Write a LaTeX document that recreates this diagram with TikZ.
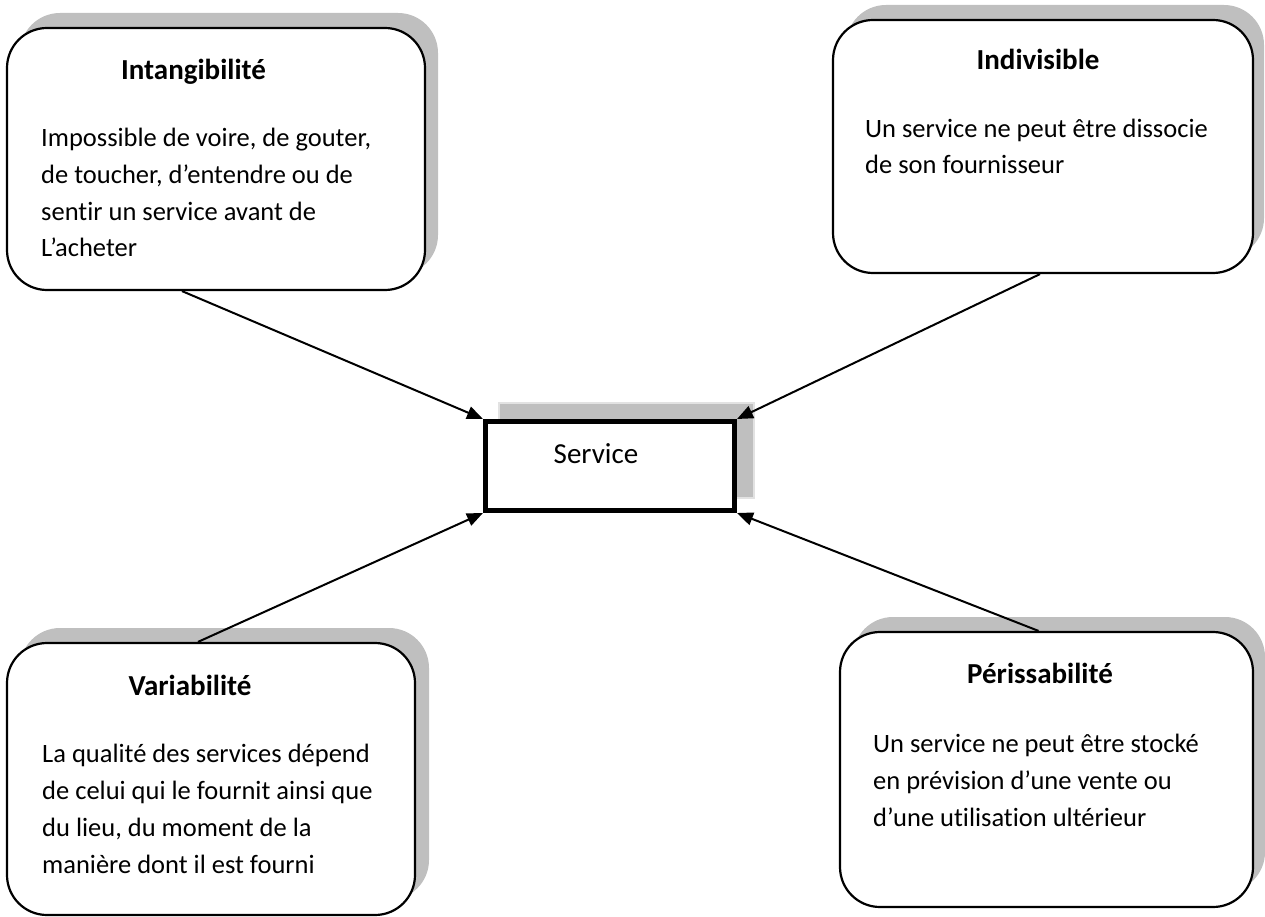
\documentclass[tikz,border=0pt]{standalone}
\usepackage{fontspec}
\setmainfont{Carlito}[Ligatures=NoCommon]
\usetikzlibrary{arrows.meta}
\definecolor{shade}{HTML}{BFBFBF}
\definecolor{shadeedge}{HTML}{E2E2E2}
\begin{document}
\begin{tikzpicture}[x=1pt,y=-1pt,
  card/.style={draw=black, line width=2.2pt, fill=white, rounded corners=40pt, inner sep=0pt},
  cardshadow/.style={fill=shade, rounded corners=40pt},
  title/.style={font=\fontsize{29}{36}\selectfont\bfseries, anchor=base, inner sep=0pt},
  body/.style={font=\fontsize{26.5}{36.7}\selectfont, anchor=base west, align=left, inner sep=0pt},
  centerbox/.style={draw=black, line width=5pt, fill=white, inner sep=0pt, minimum width=249pt, minimum height=89pt},
  link/.style={line width=2pt, -{Triangle[length=16pt,width=13pt]}}
]
\useasboundingbox (0,0) rectangle (1265,917);

% shadows
\fill[cardshadow] (20,13) rectangle (438,275);
\fill[cardshadow] (846,5) rectangle (1264,258);
\fill[cardshadow] (20,628) rectangle (429,900);
\fill[cardshadow] (853,617) rectangle (1265,892);
\draw[fill=shade, draw=shadeedge, line width=1.5pt] (499,403) rectangle (754,498);

% boxes
\node[card, minimum width=418pt, minimum height=262pt] (tl) at (216,159) {};
\node[card, minimum width=420pt, minimum height=253pt] (tr) at (1043,146.5) {};
\node[card, minimum width=408pt, minimum height=272pt] (bl) at (211,779) {};
\node[card, minimum width=413pt, minimum height=275pt] (br) at (1046.5,769.5) {};
\node[centerbox] (service) at (610,466) {};
\node[font=\fontsize{29}{36}\selectfont, anchor=base, inner sep=0pt] (servicetext) at (596,463) {Service};

% texts (anchor = baseline of the last line)
\node[title] (tltitle) at (193.5,80) {Intangibilité};
\node[body] (tlbody) at (41,257) {Impossible de voire, de gouter,\\de toucher, d’entendre ou de\\sentir un service avant de\\L’acheter};

\node[title] (trtitle) at (1038,70) {Indivisible};
\node[body] (trbody) at (865,174) {Un service ne peut être dissocie\\de son fournisseur};

\node[title] (bltitle) at (190,695) {Variabilité};
\node[body] (blbody) at (42,873) {La qualité des services dépend\\de celui qui le fournit ainsi que\\du lieu, du moment de la\\manière dont il est fourni};

\node[title] (brtitle) at (1040,683) {Périssabilité};
\node[body] (brbody) at (873,826) {Un service ne peut être stocké\\en prévision d’une vente ou\\d’une utilisation ultérieur};

% connectors
\draw[link] ([xshift=-34pt]tl.south) -- (service.north west);
\draw[link] ([xshift=-3pt]tr.south) -- (service.north east);
\draw[link] ([xshift=-13pt]bl.north) -- (service.south west);
\draw[link] ([xshift=-8pt]br.north) -- (service.south east);
\end{tikzpicture}
\end{document}
